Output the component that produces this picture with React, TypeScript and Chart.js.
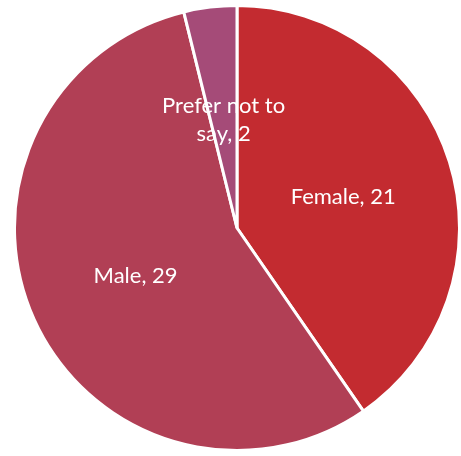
import React, { useEffect, useRef } from "react";
import { Chart, registerables } from "chart.js";

Chart.register(...registerables);

const categories = ["Female", "Male", "Prefer not to say"];
const values = [21, 29, 2];
const colors = ["#C32B30", "#B13F55", "#A54B78"];

const FONT = "22px Lato, 'Open Sans', sans-serif";

function wrap(ctx: CanvasRenderingContext2D, text: string, maxW: number): string[] {
  const words = text.split(" ");
  const lines: string[] = [];
  let cur = "";
  for (const w of words) {
    const t = cur ? cur + " " + w : w;
    if (ctx.measureText(t).width > maxW && cur) {
      lines.push(cur);
      cur = w;
    } else cur = t;
  }
  if (cur) lines.push(cur);
  return lines;
}

const labelPlugin = {
  id: "sliceLabels",
  afterDatasetsDraw(chart: any) {
    const ctx = chart.ctx as CanvasRenderingContext2D;
    const meta = chart.getDatasetMeta(0);
    ctx.save();
    ctx.font = FONT;
    ctx.fillStyle = "#FFFFFF";
    ctx.textAlign = "center";
    ctx.textBaseline = "middle";
    meta.data.forEach((arc: any, i: number) => {
      const p = arc.tooltipPosition();
      const text = `${categories[i]}, ${values[i]}`;
      const lines = wrap(ctx, text, 150);
      const lh = 28;
      lines.forEach((ln, k) => {
        ctx.fillText(ln, p.x, p.y + 2 + (k - (lines.length - 1) / 2) * lh);
      });
    });
    ctx.restore();
  },
};

export default function App() {
  const ref = useRef<HTMLCanvasElement>(null);
  useEffect(() => {
    document.body.style.margin = "0";
    const chart = new Chart(ref.current!, {
      type: "pie",
      data: {
        labels: categories,
        datasets: [
          {
            data: values,
            backgroundColor: colors,
            borderColor: "#FFFFFF",
            borderWidth: 3,
          },
        ],
      },
      options: {
        animation: false,
        responsive: false,
        layout: { padding: { left: 13, right: -1, top: 2, bottom: 2 } },
        plugins: {
          legend: { display: false },
          tooltip: { enabled: false },
          title: { display: false },
        },
      },
      plugins: [labelPlugin],
    });
    return () => chart.destroy();
  }, []);
  return (
    <div style={{ position: "absolute", left: 0, top: 0, width: 461, height: 456 }}>
      <canvas ref={ref} width={461} height={456} style={{ width: 461, height: 456 }} />
    </div>
  );
}
